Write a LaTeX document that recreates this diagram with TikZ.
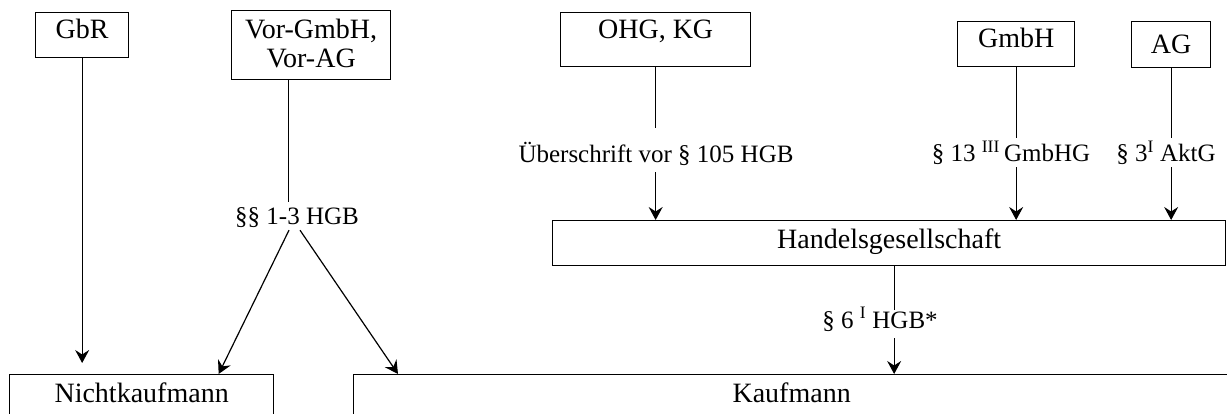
\documentclass[tikz,border=0pt]{standalone}
\usepackage{fontspec}
\setmainfont{Liberation Serif}
\usetikzlibrary{arrows.meta}
\newcommand{\boxfont}{\fontsize{28}{29}\selectfont}
\newcommand{\lblfont}{\fontsize{25}{26}\selectfont}
\tikzset{
  rbox/.style = {draw,line width=1.3pt,inner sep=0pt,anchor=north west,font=\boxfont},
  lbl/.style  = {inner sep=0pt,anchor=base,font=\lblfont},
  link/.style = {line width=1.2pt},
  arr/.style  = {-{Stealth[length=13pt,width=14pt,inset=4.5pt]},line width=1.2pt}
}

\begin{document}
\begin{tikzpicture}[x=1pt,y=-1pt]
  \useasboundingbox (0,0) rectangle (1227,414);
  % Rechtsformen oben
  \node[rbox,minimum width=93pt,text height=26pt,text depth=19pt]  (gbr)  at (35,12)   {GbR};
  \node[rbox,minimum width=159pt,text height=28pt,text depth=41pt] (vor)  at (231,10)
    {\begin{tabular}[t]{@{}c@{}}Vor-GmbH,\\Vor-AG\end{tabular}};
  \node[rbox,minimum width=190pt,text height=26pt,text depth=28pt] (ohg)  at (560,12)  {OHG, KG};
  \node[rbox,minimum width=117pt,text height=26pt,text depth=19pt] (gmbh) at (957,21)  {GmbH};
  \node[rbox,minimum width=79pt,text height=32pt,text depth=14pt]  (ag)   at (1131,21) {AG};
  \node[rbox,minimum width=673pt,text height=28pt,text depth=17pt] (hg)   at (552,220) {Handelsgesellschaft};
  \node[rbox,minimum width=264pt,text height=28pt,text depth=17pt] (nk)   at (9,374)   {Nichtkaufmann};
  \node[rbox,minimum width=876pt,text height=28pt,text depth=17pt] (kfm)  at (353,374) {Kaufmann};
  % Normen
  \node[lbl,text height=23pt,text depth=5pt]  (hgb13) at (297,225)  {§§ 1-3 HGB};
  \node[lbl,text height=35pt,text depth=9pt]  (ueb)   at (656,163)  {Überschrift vor § 105 HGB};
  \node[lbl,text height=24pt,text depth=5pt]  (gmbhg) at (1011,162) {§ 13 \textsuperscript{III}\,GmbHG};
  \node[lbl,text height=24pt,text depth=5pt]  (aktg)  at (1166,162) {§ 3\textsuperscript{I} AktG};
  \node[lbl,text height=18pt,text depth=10pt] (hgb6)  at (880,328)  {§ 6 \textsuperscript{I} HGB*};
  % Verbindungen
  \draw[arr,shorten >=11pt] (gbr) -- (gbr |- nk.north);
  \draw[link] ([xshift=-22.5pt]vor.south) -- ([xshift=-22.5pt]vor.south |- hgb13.north);
  \draw[arr] ([xshift=-8pt]hgb13.south) -- ([xshift=77pt]nk.north);
  \draw[arr] ([xshift=3pt]hgb13.south) -- ([xshift=45pt]kfm.north west);
  \draw[link] (ohg) -- (ohg |- ueb.north);
  \draw[arr] (ohg |- ueb.south) -- (ohg |- hg.north);
  \draw[link] (gmbh) -- (gmbh |- gmbhg.north);
  \draw[arr] (gmbh |- gmbhg.south) -- (gmbh |- hg.north);
  \draw[link] (ag) -- (ag |- aktg.north);
  \draw[arr] (ag |- aktg.south) -- (ag |- hg.north);
  \draw[link] ([xshift=5pt]hg.south) -- ([xshift=5pt]hg.south |- hgb6.north);
  \draw[arr] ([xshift=5pt]hg.south |- hgb6.south) -- ([xshift=5pt]hg.south |- kfm.north);
\end{tikzpicture}
\end{document}
